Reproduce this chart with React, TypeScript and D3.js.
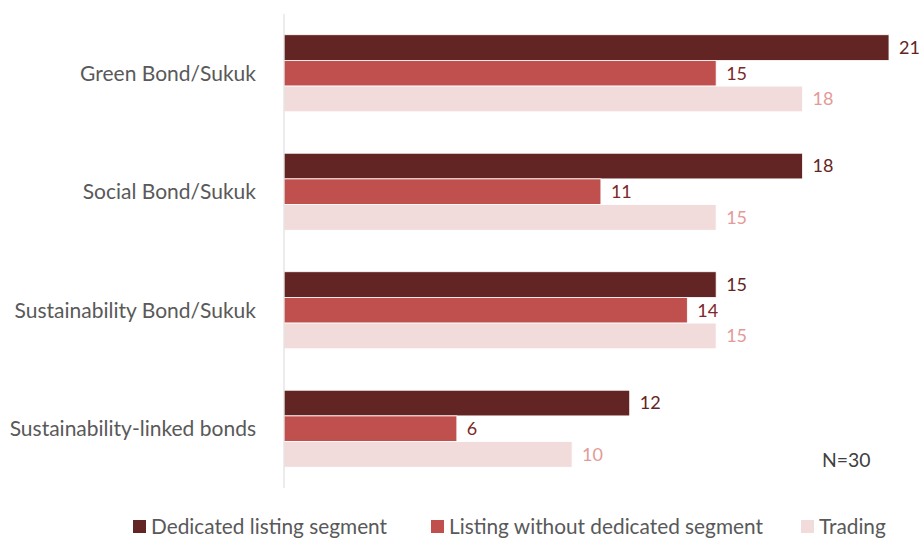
import * as React from "react"
import * as d3 from "d3"

const categories = [
  "Green Bond/Sukuk",
  "Social Bond/Sukuk",
  "Sustainability Bond/Sukuk",
  "Sustainability-linked bonds",
]
const seriesNames = [
  "Dedicated listing segment",
  "Listing without dedicated segment",
  "Trading",
]
const dedicated = [21, 18, 15, 12]
const withoutSegment = [15, 11, 14, 6]
const trading = [18, 15, 15, 10]

const barColors = ["#632523", "#C0504D", "#F2DCDB"]
const labelColors = ["#632523", "#7B2A29", "#E39A98"]
const font = "Lato, 'Open Sans', sans-serif"

const width = 920
const height = 538
const margin = { top: 14, right: 31, bottom: 50, left: 284 }

export default function App() {
  const series = [dedicated, withoutSegment, trading]

  const x = d3
    .scaleLinear()
    .domain([0, 21])
    .range([margin.left, width - margin.right])

  const y = d3
    .scaleBand()
    .domain(categories)
    .range([margin.top, height - margin.bottom])
    .paddingInner(0.35)
    .paddingOuter(0.175)

  const inner = d3
    .scaleBand<number>()
    .domain([0, 1, 2])
    .range([0, y.bandwidth()])

  // legend layout
  const legendItems = [
    { x: 133, name: seriesNames[0] },
    { x: 431, name: seriesNames[1] },
    { x: 801, name: seriesNames[2] },
  ]

  return (
    <svg width={width} height={height} style={{ position: "absolute", left: 0, top: 0 }}>
      <rect width={width} height={height} fill="#fff" />
      {categories.map((c, i) => (
        <g key={c}>
          {series.map((vals, s) => {
            const y0 = (y(c) || 0) + (inner(s) || 0)
            return (
              <g key={s}>
                <rect
                  x={x(0)}
                  y={y0}
                  width={x(vals[i]) - x(0)}
                  height={inner.bandwidth()}
                  fill={barColors[s]}
                  stroke="#fff"
                  strokeWidth={0.8}
                />
                <text
                  x={x(vals[i]) + 10}
                  y={y0 + inner.bandwidth() / 2}
                  dy="0.35em"
                  fontFamily={font}
                  fontSize={18}
                  fill={labelColors[s]}
                >
                  {vals[i]}
                </text>
              </g>
            )
          })}
          <text
            x={256}
            y={(y(c) || 0) + y.bandwidth() / 2}
            dy="0.35em"
            textAnchor="end"
            fontFamily={font}
            fontSize={21}
            fill="#595959"
          >
            {c}
          </text>
        </g>
      ))}
      <line
        x1={x(0)}
        x2={x(0)}
        y1={margin.top}
        y2={height - margin.bottom}
        stroke="#d9d9d9"
        strokeWidth={1}
      />
      <text x={822} y={460} dy="0.35em" fontFamily={font} fontSize={19.4} fill="#404040">
        N=30
      </text>
      {legendItems.map((l, i) => (
        <g key={l.name}>
          <rect x={l.x} y={520} width={13} height={13} fill={barColors[i]} />
          <text x={l.x + 18} y={526.5} dy="0.35em" fontFamily={font} fontSize={20.8} fill="#595959">
            {l.name}
          </text>
        </g>
      ))}
    </svg>
  )
}
